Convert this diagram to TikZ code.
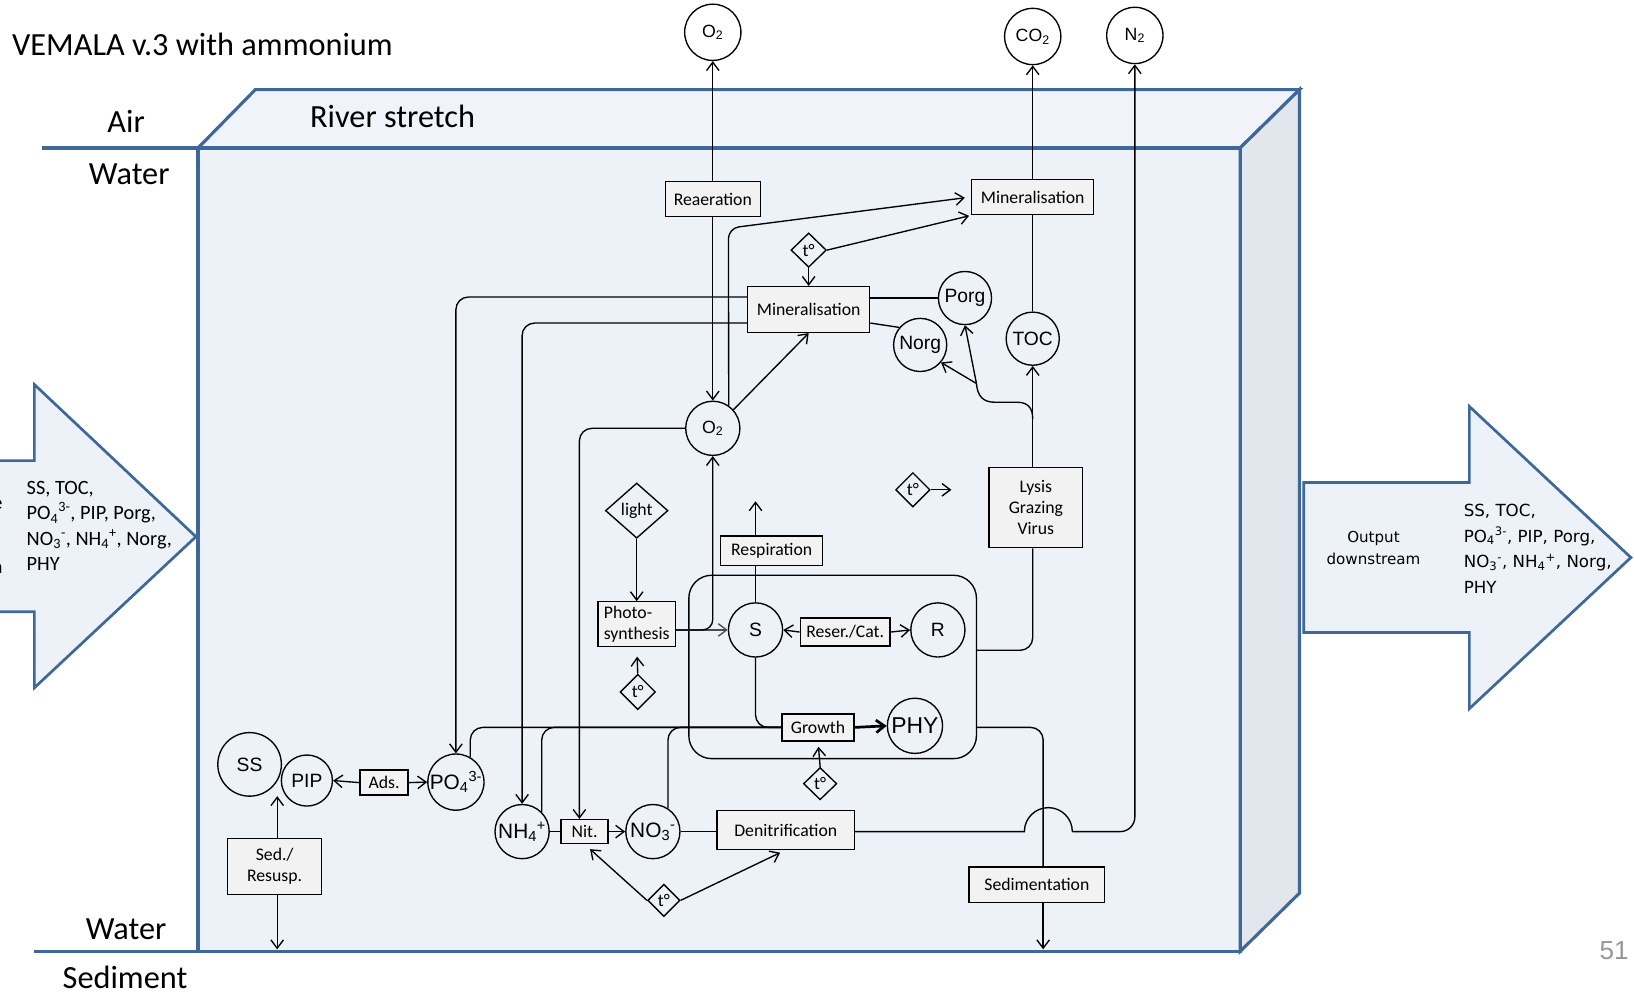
\documentclass[tikz,border=0pt]{standalone}
\usepackage{fontspec}
\setmainfont{Carlito}
\newfontfamily\calib{Carlito}
\newfontfamily\arialf{Liberation Sans}
\newfontfamily\dejav{DejaVu Sans}
\usetikzlibrary{shapes.geometric,arrows.meta,calc}
\definecolor{bluestroke}{RGB}{62,104,153}
\definecolor{frontfill}{RGB}{237,242,249}
\definecolor{topfill}{RGB}{240,243,249}
\definecolor{sidefill}{RGB}{226,231,238}
\definecolor{boxfill}{RGB}{242,242,242}
\definecolor{pagegray}{RGB}{150,150,150}
\begin{document}
\begin{tikzpicture}[x=1pt,y=-1pt,line width=1.3pt,
  >={Straight Barb[length=8pt,width=12pt]},
  box/.style={draw=black,fill=boxfill,line width=1.3pt,inner sep=0pt,align=center,
    font=\calib\fontsize{17}{20.5}\selectfont},
  circ/.style={circle,draw=black,line width=1.3pt,inner sep=0pt,minimum size=52pt,
    font=\arialf\fontsize{18.5}{20}\selectfont},
  oxy/.style={circ,font=\arialf\fontsize{17}{20}\selectfont},
  ion/.style={circ,font=\arialf\fontsize{20}{22}\selectfont},
  dia/.style={diamond,draw=black,line width=1.3pt,inner sep=0pt,
    font=\calib\fontsize{17}{20}\selectfont},
  big/.style={font=\calib\fontsize{31}{36}\selectfont},
  rnd/.style={rounded corners=12pt}]
\useasboundingbox (0,0) rectangle (1568,954);
\clip (0,0) rectangle (1568,954);

% ---------- inflow / outflow arrows ----------
\filldraw[fill=frontfill,draw=bluestroke,line width=2.6pt]
  (-10,442) -- (33,442) -- (33,369) -- (188,515) -- (33,660) -- (33,587) -- (-10,587);
\filldraw[fill=frontfill,draw=bluestroke,line width=2.6pt]
  (1251,463) -- (1410,463) -- (1410,390) -- (1565,535) -- (1410,680) -- (1410,607) -- (1251,607) -- cycle;

% ---------- 3D river box ----------
\fill[frontfill] (190,142) rectangle (1190,913);
\filldraw[fill=topfill,draw=bluestroke,line width=3pt]
  (190,142) -- (245,86) -- (1247,86) -- (1190,142) -- cycle;
\filldraw[fill=sidefill,draw=bluestroke,line width=3pt]
  (1190,142) -- (1247,86) -- (1247,857) -- (1190,913) -- cycle;
\draw[bluestroke,line width=3pt] (190,142) rectangle (1190,913);
\draw[bluestroke,line width=3pt] (40,142) -- (190,142);
\draw[bluestroke,line width=3pt] (33,913) -- (190,913);

% ---------- texts ----------
\node[big,anchor=west,inner sep=0pt] (title) at (11,43) {VEMALA v.3 with ammonium};
\node[big] (air) at (121,116) {Air};
\node[big] (waterA) at (124,167) {Water};
\node[big] (waterB) at (121,892) {Water};
\node[big] (sedim) at (120,938) {Sediment};
\node[big,anchor=west,inner sep=0pt] (river) at (297,112) {River stretch};
\node[font=\arialf\fontsize{25}{28}\selectfont,text=pagegray] (pgnum) at (1549,912) {51};

\node[anchor=base east,inner sep=0pt,font=\calib\fontsize{19.5}{24}\selectfont] (fragA) at (3,489) {e};
\node[anchor=base east,inner sep=0pt,font=\calib\fontsize{19.5}{24}\selectfont] (fragB) at (3,550) {n};
\node[anchor=north west,align=left,inner sep=0pt,font=\calib\fontsize{19.5}{24.5}\selectfont] (inlist) at (25,461)
  {SS, TOC,\\PO\textsubscript{4}\textsuperscript{3-}, PIP, Porg,\\NO\textsubscript{3}\textsuperscript{-}, NH\textsubscript{4}\textsuperscript{+}, Norg,\\PHY};
\node[anchor=north west,align=left,inner sep=0pt,font=\dejav\fontsize{16}{24.7}\selectfont] (outlist) at (1404,483)
  {SS, TOC,\\PO\textsubscript{4}\textsuperscript{3-}, PIP, Porg,\\NO\textsubscript{3}\textsuperscript{-}, NH\textsubscript{4}\textsuperscript{+}, Norg,\\PHY};
\node[align=center,font=\dejav\fontsize{14.5}{21}\selectfont] (outlab) at (1318,526) {Output\\downstream};

% ---------- nodes ----------
\node[oxy,minimum size=54pt] (OtwoA) at (684,31) {O\textsubscript{2}};
\node[oxy,minimum size=54pt] (COtwo) at (991,35) {CO\textsubscript{2}};
\node[oxy,minimum size=54pt] (Ntwo) at (1089,34) {N\textsubscript{2}};
\node[box,minimum width=91pt,minimum height=34pt] (Reaer) at (684,191) {Reaeration};
\node[box,minimum width=117pt,minimum height=34pt] (MinA) at (991,189) {Mineralisation};
\node[dia,minimum width=34pt,minimum height=33pt] (TdA) at (776,240) {t°};
\node[box,minimum width=117pt,minimum height=44pt] (MinB) at (776,297) {Mineralisation};
\node[circ,minimum size=51pt] (Porg) at (926,286) {Porg};
\node[circ,minimum size=51pt] (Norg) at (883,331) {Norg};
\node[circ,minimum size=51pt] (TOC) at (991,325) {TOC};
\node[oxy] (OtwoB) at (684,411) {O\textsubscript{2}};
\node[box,minimum width=90pt,minimum height=77pt] (Lysis) at (994,487) {Lysis\\Grazing\\Virus};
\node[dia,minimum width=33pt,minimum height=33pt] (TdB) at (876,470) {t°};
\coordinate (TdBout) at (913,470);
\node[dia,minimum width=60pt,minimum height=53pt] (Light) at (611,490) {light};
\node[box,minimum width=74pt,minimum height=43pt,align=left] (Photo) at (611,599) {Photo-\\synthesis};
\node[dia,minimum width=34pt,minimum height=34pt] (TdC) at (612,664) {t°};
\node[box,minimum width=98pt,minimum height=28pt] (Resp) at (740.5,528.5) {Respiration};
\coordinate (RespOut) at (725,481);
\node[draw=black,line width=1.3pt,rounded corners=22pt,minimum width=276pt,minimum height=176pt] (Cont) at (799,640) {};
\node[circ] (S) at (725,604.5) {S};
\node[box,minimum width=86pt,minimum height=27pt] (Reser) at (811,606.5) {Reser./Cat.};
\node[circ] (R) at (900,604.5) {R};
\node[box,minimum width=69pt,minimum height=26pt] (Growth) at (785,698) {Growth};
\node[circ,minimum size=53pt,font=\arialf\fontsize{22}{24}\selectfont] (PHY) at (878,696.5) {PHY};
\node[dia,minimum width=32pt,minimum height=31pt] (TdD) at (787,752) {t°};
\node[circ,minimum size=61pt] (SS) at (239.5,733.5) {SS};
\node[circ,minimum size=49pt] (PIP) at (294.5,749) {PIP};
\node[box,minimum width=46pt,minimum height=24pt] (Ads) at (368.5,751) {Ads.};
\node[ion,minimum size=53pt] (PO4) at (437.5,750.5) {PO\textsubscript{4}\textsuperscript{3-}};
\node[box,minimum width=90pt,minimum height=54pt] (Sed) at (263.5,831.5) {Sed./\\Resusp.};
\coordinate (SedUp) at (266,764);
\coordinate (SedDown) at (266,911);
\node[ion] (NH4) at (501,798) {NH\textsubscript{4}\textsuperscript{+}};
\node[box,minimum width=45pt,minimum height=23pt] (Nit) at (561,798) {Nit.};
\node[ion] (NO3) at (626.5,798) {NO\textsubscript{3}\textsuperscript{-}};
\node[box,minimum width=132pt,minimum height=37pt] (Denit) at (754,796.5) {Denitrification};
\node[dia,minimum width=31pt,minimum height=31pt] (TdE) at (637,864) {t°};
\node[box,minimum width=130pt,minimum height=34pt] (Sedim) at (995,849) {Sedimentation};
\coordinate (SedimOut) at (1001,911);
\coordinate (Jb) at (991,402);
\coordinate (Jn) at (937,368);

% ---------- connectors ----------
\draw[->] (Reaer.north) -- (OtwoA.south);
\draw[->] (Reaer.south) -- (OtwoB.north);
\draw[->] (MinA.north) -- (COtwo.south);
\draw (TOC.north) -- (MinA.south);
\draw[->] (TOC.south |- Lysis.north) -- (TOC.south);
\draw (Jb) .. controls (991,391) and (986,386) .. (976,386) -- (955,386)
  .. controls (943,386) and (938,380) .. (Jn);
\draw[->] (Jn) -- (Porg.south);
\draw[->] (Jn) -- (Norg.-40);
\draw[->] (OtwoB.42) -- (MinB.south);
\draw[->,rounded corners=10pt,shorten >=6pt] (OtwoB.55) -- (699,219) -- (MinA.west);
\draw[->,shorten >=2pt] (TdA.east) -- (MinA.south west);
\draw[->] (TdA.south) -- (MinB.north);
\draw[->,rnd] ($(MinB.west)+(0,-12)$) -| (PO4.north);
\draw[->,rnd] ($(MinB.west)+(0,13)$) -| (NH4.north);
\draw (MinB.east |- Porg.west) -- (Porg.west);
\draw ($(MinB.east)+(0,13)$) -- (Norg.140);
\draw[->,rnd] (OtwoB.west) -| ($(Nit.north)+(-5,0)$);
\draw[->] (Light.south) -- (Photo.north);
\draw[->,shorten >=9pt] (TdC.north) -- (Photo.south);
\draw[->,draw=black!70] (Photo.east |- S.west) -- (S.west);
\draw[->,rounded corners=10pt] (Photo.east |- S.west) -| (OtwoB.south);
\draw (S.north) -- (S.north |- Resp.south);
\draw[->] (S.north |- Resp.north) -- (RespOut);
\draw[->] (Reser.west) -- (S.east);
\draw[->] (Reser.east) -- (R.west);
\draw[rnd] (S.south) |- (Growth.west);
\draw[->,line width=2.6pt] (Growth.east) -- (PHY.west);
\draw[->,shorten >=5pt] (TdD.north) -- (Growth.south);
\draw[rnd] (PO4.60) |- (Growth.west);
\draw[rnd] (NH4.45) |- (Growth.west);
\draw[rnd] (NO3.57) |- (Growth.west);
\draw[rnd] (Cont.east |- Growth.east) -| ($(Sedim.north)+(6,0)$);
\draw[->] ($(Sedim.south)+(6,0)$) -- (SedimOut);
\draw[rnd] ($(Cont.east)+(0,-16)$) -| ($(Lysis.south)+(-3,0)$);
\draw (NO3.east) -- (Denit.west |- NO3.east);
\draw (Denit.east |- NO3.east) -- ($(Sedim.north |- NO3.east)+(-12,0)$)
  arc[start angle=180,end angle=0,radius=23pt] coordinate (hopEnd);
\draw[->,rounded corners=14pt] (hopEnd) -| (Ntwo.south);
\draw (NH4.east) -- (Nit.west);
\draw[->] (Nit.east) -- (NO3.west);
\draw[->,shorten >=7pt] (TdE.west) -- (Nit.south);
\draw[->,shorten >=6pt] (TdE.east) -- (Denit.south);
\draw[->] (Ads.west) -- (PIP.east);
\draw[->] (Ads.east) -- (PO4.west);
\draw[->] (Sed.north -| SedUp) -- (SedUp);
\draw[->] (Sed.south -| SedDown) -- (SedDown);
\draw[->] (TdB.east) -- (TdBout);
\end{tikzpicture}
\end{document}
